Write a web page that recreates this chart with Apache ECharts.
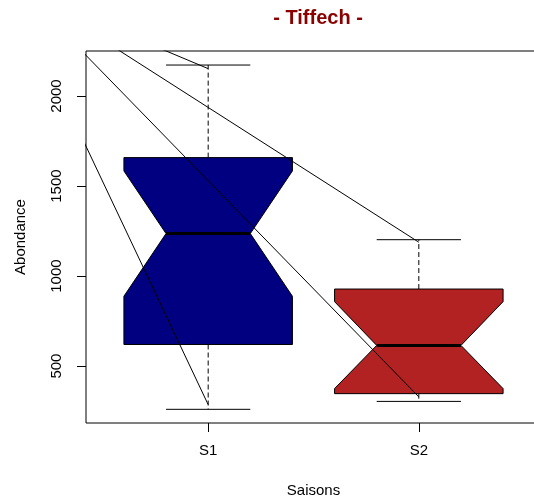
<!DOCTYPE html>
<html>
<head>
<meta charset="utf-8">
<script src="https://cdn.jsdelivr.net/npm/echarts@6/dist/echarts.min.js"></script>
<style>html,body{margin:0;padding:0;background:#fff;}#c{width:534px;height:501px;}</style>
</head>
<body>
<div id="c"></div>
<script>
// ---- data ----
const categories = ['S1', 'S2'];
const whiskerLow = [260, 304];
const q1 = [620, 347];
const notchLow = [888, 375];
const median = [1236, 615];
const notchHigh = [1584, 858];
const q3 = [1658, 928];
const whiskerHigh = [2172, 1202];
const yTicks = [500, 1000, 1500, 2000];
// extra straight segments drawn over the plot
const segX0 = [0, 0, 0, 0];
const segY0 = [2730, 2685, 2644, 2760];
const segX1 = [2, 2, 1, 1];
const segY1 = [329, 1188, 2152, 286];

const boxColors = ['#000080', '#B22222'];
const FONT = "'Liberation Sans', Arial, Helvetica, sans-serif";

const chart = echarts.init(document.getElementById('c'), null, {renderer: 'canvas'});

const boxData = categories.map((c, i) => [i + 1, whiskerLow[i], q1[i], notchLow[i], median[i], notchHigh[i], q3[i], whiskerHigh[i]]);

function renderBox(params, api) {
  const x = api.value(0);
  const wl = api.value(1), b1 = api.value(2), nl = api.value(3), md = api.value(4), nh = api.value(5), b3 = api.value(6), wh = api.value(7);
  const hw = 0.4, nw = 0.2;
  const c = (xx, yy) => api.coord([xx, yy]);
  const pts = [
    c(x - hw, b1), c(x - hw, nl), c(x - nw, md), c(x - hw, nh), c(x - hw, b3),
    c(x + hw, b3), c(x + hw, nh), c(x + nw, md), c(x + hw, nl), c(x + hw, b1)
  ];
  const col = boxColors[params.dataIndex];
  const lineSt = {stroke: '#000', lineWidth: 1};
  const dashSt = {stroke: '#000', lineWidth: 1, lineDash: [5, 3]};
  const seg = (a, b, st) => ({type: 'line', shape: {x1: a[0], y1: a[1], x2: b[0], y2: b[1]}, style: st});
  return {
    type: 'group',
    children: [
      seg(c(x, b3), c(x, wh), dashSt),
      seg(c(x, b1), c(x, wl), dashSt),
      seg(c(x - nw, wh), c(x + nw, wh), lineSt),
      seg(c(x - nw, wl), c(x + nw, wl), lineSt),
      {type: 'polygon', shape: {points: pts}, style: {fill: col, stroke: '#000', lineWidth: 1}},
      seg(c(x - nw, md), c(x + nw, md), {stroke: '#000', lineWidth: 3})
    ]
  };
}

const segSeries = segX0.map((x0, i) => ({
  type: 'line',
  data: [[x0, segY0[i]], [segX1[i], segY1[i]]],
  symbol: 'none',
  clip: true,
  silent: true,
  z: 5,
  lineStyle: {color: '#000', width: 1},
  animation: false
}));

const option = {
  animation: false,
  backgroundColor: '#fff',
  title: {
    text: '- Tiffech -',
    left: 313,
    top: 3,
    textAlign: 'center',
    textStyle: {color: '#8B0000', fontWeight: 'bold', fontSize: 20, fontFamily: FONT}
  },
  grid: {left: 86, top: 51, width: 455, height: 372, outerBoundsMode: 'none', containLabel: false, show: true, borderColor: '#000', borderWidth: 1, backgroundColor: 'transparent'},
  xAxis: {
    type: 'value',
    min: 0.42,
    max: 2.58,
    name: 'Saisons',
    nameLocation: 'middle',
    nameGap: 60,
    nameTextStyle: {color: '#000', fontSize: 15, fontFamily: FONT},
    axisLine: {show: false},
    splitLine: {show: false},
    axisTick: {show: true, customValues: [1, 2], length: 9, lineStyle: {color: '#000'}},
    axisLabel: {customValues: [1, 2], formatter: v => categories[Math.round(v) - 1] || '', margin: 20, color: '#000', fontSize: 15, fontFamily: FONT}
  },
  yAxis: {
    type: 'value',
    min: 184,
    max: 2250,
    name: 'Abondance',
    nameLocation: 'middle',
    nameRotate: 90,
    nameGap: 58,
    nameTextStyle: {color: '#000', fontSize: 15, fontFamily: FONT},
    axisLine: {show: false},
    splitLine: {show: false},
    axisTick: {show: true, customValues: yTicks, length: 9, lineStyle: {color: '#000'}},
    axisLabel: {customValues: yTicks, rotate: 90, margin: 22, formatter: v => String(v), color: '#000', fontSize: 15, fontFamily: FONT}
  },
  series: [
    {
      type: 'custom',
      renderItem: renderBox,
      data: boxData,
      encode: {x: 0, y: [1, 7]},
      clip: true,
      z: 2,
      silent: true
    }
  ].concat(segSeries)
};
chart.setOption(option);
</script>
</body>
</html>
